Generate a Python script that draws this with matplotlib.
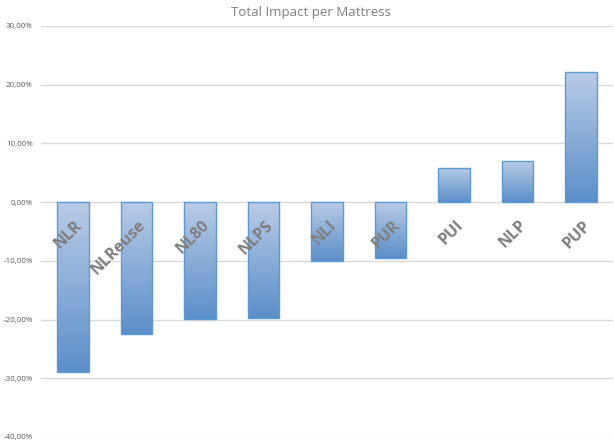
import numpy as np
import matplotlib.pyplot as plt
from matplotlib.colors import LinearSegmentedColormap
from matplotlib.ticker import FuncFormatter

categories = ['NLR', 'NLReuse', 'NL80', 'NLPS', 'NLI', 'PUR', 'PUI', 'NLP', 'PUP']
impact = [-28.9, -22.5, -19.9, -19.7, -10.0, -9.5, 5.85, 6.9, 22.15]
yticks = [30, 20, 10, 0, -10, -20, -30, -40]

plt.rcParams['font.family'] = ['Open Sans', 'DejaVu Sans']

fig = plt.figure(figsize=(6.14, 4.45), dpi=100)
ax = fig.add_axes([0.067, 0.018, 0.931, 0.924])

x = np.arange(len(categories))
bars = ax.bar(x, impact, width=0.5, color='none', edgecolor='#5b9bd5', linewidth=1.0, zorder=3)

# vertical gradient inside every bar, light on top, darker at the bottom
cmap = LinearSegmentedColormap.from_list('bar_grad', ['#b9cbe6', '#5b8fc9'])
grad = np.linspace(0, 1, 256).reshape(-1, 1)
for b in bars:
    x0 = b.get_x()
    y0 = b.get_y()
    w = b.get_width()
    h = b.get_height()
    lo, hi = min(y0, y0 + h), max(y0, y0 + h)
    im = ax.imshow(grad, cmap=cmap, aspect='auto', origin='upper',
                   extent=(x0, x0 + w, lo, hi), zorder=2)
    im.set_clip_path(b)

ax.set_xlim(-0.5, len(categories) - 0.5)
ax.set_ylim(-40, 30)
ax.set_yticks(yticks)
ax.yaxis.set_major_formatter(FuncFormatter(lambda v, p: '{:.2f}%'.format(v).replace('.', ',')))
ax.tick_params(axis='y', length=0, labelsize=5.8, labelcolor='#595959', pad=6)
ax.set_xticks([])
ax.grid(axis='y', color='#d9d9d9', linewidth=1.0, zorder=0)
for s in ax.spines.values():
    s.set_visible(False)

for i, name in enumerate(categories):
    ax.annotate(name, xy=(i, 0), xytext=(1, -11), textcoords='offset points',
                rotation=45, rotation_mode='anchor', ha='right', va='top',
                fontsize=11.5, fontweight='bold', color='#7f7f7f', zorder=4)

fig.text(0.507, 0.972, 'Total Impact per Mattress', ha='center', va='center',
         fontsize=9.5, color='#7f7f7f')

fig.savefig('out.png', dpi=100)
